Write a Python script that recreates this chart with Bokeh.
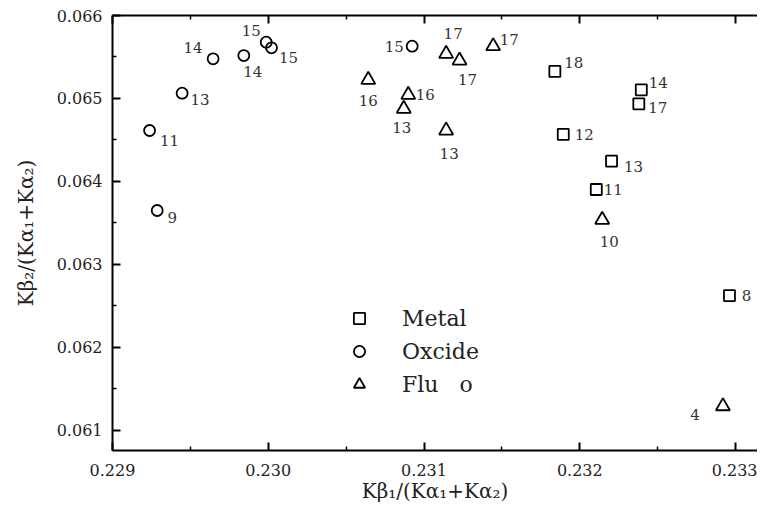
from bokeh.plotting import figure
from bokeh.models import (ColumnDataSource, Range1d, LinearAxis, FixedTicker,
                          PrintfTickFormatter, Legend, LegendItem)
from bokeh.core.properties import value
from bokeh.embed import file_html
from bokeh.resources import INLINE

# ---------------- data ----------------
metal_x = [0.231840, 0.232395, 0.232379, 0.231894, 0.232204, 0.232106, 0.232961]
metal_y = [0.065325, 0.065104, 0.064935, 0.064565, 0.064243, 0.063901, 0.062622]
metal_labels = ["18", "14", "17", "12", "13", "11", "8"]

oxide_x = [0.229287, 0.229238, 0.229447, 0.229646, 0.229843, 0.229987, 0.230021, 0.230924]
oxide_y = [0.063648, 0.064613, 0.065063, 0.065478, 0.065517, 0.065678, 0.065610, 0.065630]
oxide_labels = ["9", "11", "13", "14", "14", "15", "15", "15"]

fluo_x = [0.230642, 0.230899, 0.230870, 0.231142, 0.231142, 0.231228, 0.231444, 0.232144, 0.232919]
fluo_y = [0.065224, 0.065043, 0.064875, 0.064613, 0.065538, 0.065457, 0.065630, 0.063536, 0.061287]
fluo_labels = ["16", "16", "13", "13", "17", "17", "17", "10", "4"]

series_names = ["Metal", "Oxcide", "Flu\u00a0\u00a0\u00a0o"]

x_ticks = [0.229, 0.230, 0.231, 0.232, 0.233]
x_minor = [0.2295, 0.2305, 0.2315, 0.2325, 0.2335]
y_ticks = [0.061, 0.062, 0.063, 0.064, 0.065, 0.066]
y_minor = [0.0605, 0.0615, 0.0625, 0.0635, 0.0645, 0.0655]

x_title = "K\u03b2\u2081/(K\u03b1\u2081+K\u03b1\u2082)"
y_title = "K\u03b2\u2082/(K\u03b1\u2081+K\u03b1\u2082)"

# ---------------- label layout (screen-pixel offsets) ----------------
metal_dx = [19, 17, 19, 21, 22, 17, 17]
metal_dy = [-9, -7, 4, 0, 5, 0, 0]
oxide_dx = [15, 20, 18, -20, 9, -15, 17, -18]
oxide_dy = [7, 10, 6, -11, 16, -12, 10, 0]
fluo_dx = [0, 17, -2, 3, 7, 8, 16, 7, -28]
fluo_dy = [21, 0, 19, 23, -20, 19, -7, 22, 8]

FONT = "DejaVu Serif"

p = figure(width=757, height=506, output_backend="svg", toolbar_location=None,
           x_range=Range1d(0.229, 0.233141), y_range=Range1d(0.060753, 0.066),
           x_axis_location=None, y_axis_location=None,
           min_border_left=112, min_border_right=0, min_border_top=15, min_border_bottom=56)
p.outline_line_color = None
p.xgrid.visible = False
p.ygrid.visible = False
p.background_fill_color = "white"
p.border_fill_color = "white"

def style_axis(ax):
    ax.axis_line_width = 2
    ax.axis_line_color = "black"
    ax.major_tick_in = 8
    ax.major_tick_out = 0
    ax.minor_tick_in = 4
    ax.minor_tick_out = 0
    ax.major_tick_line_width = 2
    ax.minor_tick_line_width = 1.5
    ax.major_tick_line_color = "black"
    ax.minor_tick_line_color = "black"
    ax.major_label_text_font = FONT
    ax.major_label_text_font_size = "16px"
    ax.major_label_text_color = "#222222"
    ax.axis_label_text_font = FONT
    ax.axis_label_text_font_size = "20px"
    ax.axis_label_text_font_style = "normal"
    ax.axis_label_text_color = "#222222"

xax = LinearAxis(ticker=FixedTicker(ticks=x_ticks, minor_ticks=x_minor),
                 formatter=PrintfTickFormatter(format="%.3f"), axis_label=x_title)
style_axis(xax)
xax.major_label_standoff = 13
xax.axis_label_standoff = 0
p.add_layout(xax, "below")

yax = LinearAxis(ticker=FixedTicker(ticks=y_ticks, minor_ticks=y_minor),
                 formatter=PrintfTickFormatter(format="%.3f"), axis_label=y_title)
style_axis(yax)
yax.major_label_standoff = 10
yax.axis_label_standoff = 16
p.add_layout(yax, "left")

tax = LinearAxis(ticker=FixedTicker(ticks=x_ticks, minor_ticks=x_minor))
style_axis(tax)
tax.major_label_text_font_size = "4px"
tax.major_label_text_alpha = 0
tax.major_label_standoff = 0
p.add_layout(tax, "above")

src_m = ColumnDataSource(dict(x=metal_x, y=metal_y, t=metal_labels, dx=metal_dx, dy=metal_dy))
src_o = ColumnDataSource(dict(x=oxide_x, y=oxide_y, t=oxide_labels, dx=oxide_dx, dy=oxide_dy))
src_f = ColumnDataSource(dict(x=fluo_x, y=fluo_y, t=fluo_labels, dx=fluo_dx, dy=fluo_dy))

rm = p.scatter("x", "y", source=src_m, marker="square", size=11, fill_color=None,
               line_color="black", line_width=1.8)
ro = p.scatter("x", "y", source=src_o, marker="circle", size=11, fill_color=None,
               line_color="black", line_width=1.8)
rf = p.scatter("x", "y", source=src_f, marker="triangle", size=14, fill_color=None,
               line_color="black", line_width=1.8)

for s in (src_m, src_o, src_f):
    p.text("x", "y", text="t", source=s, x_offset="dx", y_offset="dy",
           text_font=value(FONT), text_font_size="15px", text_color="#333333",
           text_align="center", text_baseline="middle")

legend = Legend(items=[LegendItem(label=series_names[0], renderers=[rm]),
                       LegendItem(label=series_names[1], renderers=[ro]),
                       LegendItem(label=series_names[2], renderers=[rf])],
                location=(233, 51), orientation="vertical",
                glyph_width=28, glyph_height=30, label_height=30, spacing=3,
                label_standoff=29, padding=0, margin=0,
                border_line_color=None, background_fill_alpha=0,
                label_text_font=FONT, label_text_font_size="22px",
                label_text_color="#222222")
p.add_layout(legend, "center")

open("out.html", "w").write(file_html(p, INLINE))
